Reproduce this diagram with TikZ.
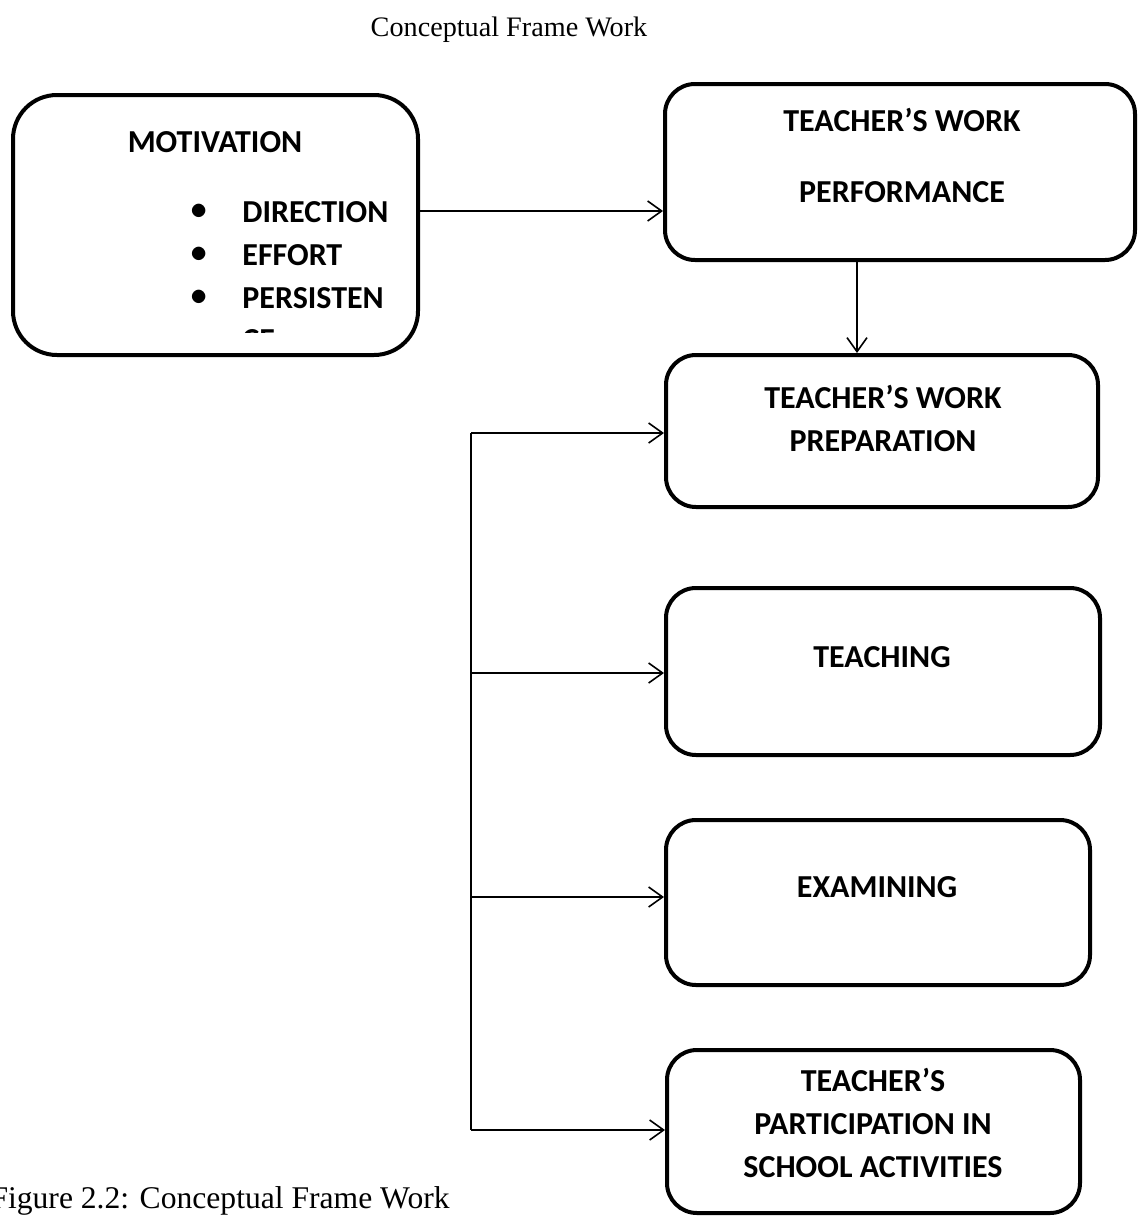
\documentclass[tikz,border=0pt]{standalone}
\usepackage{fontspec}
\setmainfont{Liberation Serif}
\newfontfamily\calibri{Carlito}
\usetikzlibrary{arrows.meta}

\begin{document}
\begin{tikzpicture}[x=0.5pt,y=0.5pt,
    box/.style={draw,line width=2pt,rounded corners=15pt,inner sep=0pt},
    lbl/.style={font=\calibri\bfseries\fontsize{16}{21.5}\selectfont,align=center},
    conn/.style={line width=0.8pt,-{Straight Barb[length=7pt,width=10pt]}}]
    \useasboundingbox (0,0) rectangle (1140,-1216);
    % headings (page is 1140 x 1216 units, y downwards)
    \node[anchor=base,inner sep=0pt,font=\fontsize{14.1}{17}\selectfont] (title) at (509,-36) {Conceptual Frame Work};
    \node[anchor=base east,inner sep=0pt,font=\fontsize{15.8}{19}\selectfont] (caption) at (450,-1208) {Figure 2.2: Conceptual Frame Work};
    % motivation box with its bullet list
    \node[box,rounded corners=22pt,minimum width=202.5pt,minimum height=130pt] (motiv) at (215.5,-225) {};
    \node[lbl] (motivtxt) at (215,-142) {MOTIVATION};
    \foreach \t/\y [count=\i] in {DIRECTION/212,EFFORT/255,PERSISTEN/298} {
        \node[font=\fontsize{17}{19}\selectfont] (dot\i) at (199,-\y) {$\bullet$};
        \node[lbl,anchor=west,inner sep=0pt] (item\i) at (242,-\y) {\t};
    }
    \begin{scope}
        \clip (230,-320) rectangle (300,-332);
        \node[lbl,anchor=west,inner sep=0pt] (item4) at (242,-340) {CE};
    \end{scope}
    % right column
    \node[box,minimum width=235pt,minimum height=88pt] (perf) at (900,-172) {};
    \node[lbl] (perftxt) at (902,-155.5) {TEACHER’S WORK\\[14pt]PERFORMANCE};
    \node[box,minimum width=216pt,minimum height=76pt] (prep) at (882,-431) {};
    \node[lbl] (preptxt) at (883,-418) {TEACHER’S WORK\\PREPARATION};
    \node[box,minimum width=217pt,minimum height=83.5pt] (teach) at (883,-671.5) {};
    \node[lbl] (teachtxt) at (882,-657) {TEACHING};
    \node[box,minimum width=212pt,minimum height=82.5pt] (exam) at (878,-902.5) {};
    \node[lbl] (examtxt) at (877,-887) {EXAMINING};
    \node[box,minimum width=206.5pt,minimum height=81.5pt] (part) at (873.5,-1131.5) {};
    \node[lbl] (parttxt) at (873,-1123) {TEACHER’S\\PARTICIPATION IN\\SCHOOL ACTIVITIES};
    % connectors
    \coordinate (m2p) at (0,-211);
    \draw[conn] (motiv.east |- m2p) -- (perf.west |- m2p);
    \coordinate (drop) at (857,0);
    \draw[conn] (perf.south -| drop) -- (prep.north -| drop);
    \coordinate (trunk) at (471,-433);
    \coordinate (trunkend) at (471,-1130);
    \draw[line width=0.8pt] (trunk) -- (trunkend);
    \foreach \b/\y in {prep/433,teach/673,exam/897,part/1130} {
        \coordinate (j\b) at (471,-\y);
        \draw[conn] (j\b) -- (\b.west |- j\b);
    }
\end{tikzpicture}
\end{document}
